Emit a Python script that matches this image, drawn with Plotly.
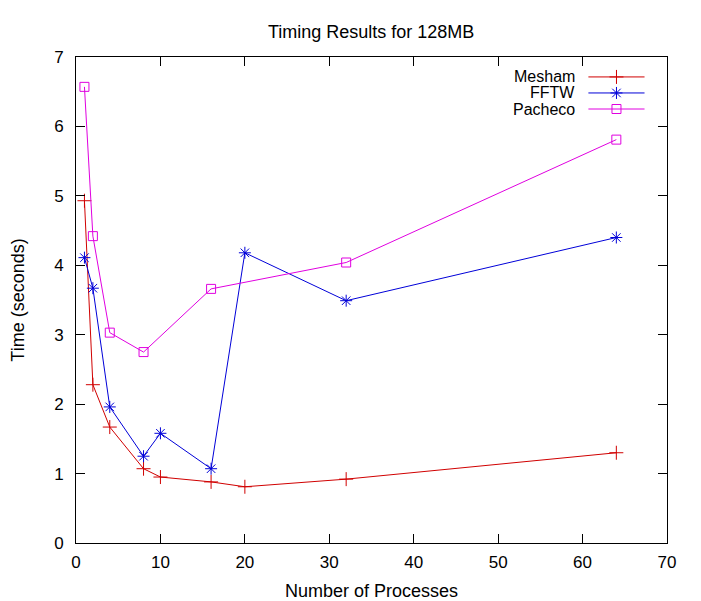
import plotly.graph_objects as go

# data
procs_mesham = [1, 2, 4, 8, 10, 16, 20, 32, 64]
time_mesham = [4.93, 2.28, 1.67, 1.07, 0.95, 0.88, 0.81, 0.92, 1.30]

procs_fftw = [1, 2, 4, 8, 10, 16, 20, 32, 64]
time_fftw = [4.11, 3.67, 1.96, 1.25, 1.58, 1.07, 4.18, 3.49, 4.40]

procs_pacheco = [1, 2, 4, 8, 16, 32, 64]
time_pacheco = [6.57, 4.42, 3.03, 2.75, 3.66, 4.04, 5.81]

series = [
    ("Mesham", procs_mesham, time_mesham, "#d00000", "cross-thin-open", 10),
    ("FFTW", procs_fftw, time_fftw, "#0000d8", "asterisk-open", 10),
    ("Pacheco", procs_pacheco, time_pacheco, "#e000e0", "square-open", 9),
]

font = "Liberation Sans, Arial, Helvetica, sans-serif"

fig = go.Figure()

for name, x, y, color, symbol, size in series:
    fig.add_trace(go.Scatter(
        x=x, y=y, mode="lines+markers", name=name,
        line=dict(color=color, width=1),
        marker=dict(symbol=symbol, size=size, color=color,
                    line=dict(color=color, width=1)),
        showlegend=False,
    ))

# gnuplot-style key: text on the left, sample on the right (overlay axes 0..1)
key_y = [0.959, 0.926, 0.893]
for (name, x, y, color, symbol, size), ky in zip(series, key_y):
    fig.add_trace(go.Scatter(
        x=[0.867, 0.962], y=[ky, ky], mode="lines",
        line=dict(color=color, width=1),
        xaxis="x2", yaxis="y2", showlegend=False, hoverinfo="skip",
    ))
    fig.add_trace(go.Scatter(
        x=[0.9145], y=[ky], mode="markers",
        marker=dict(symbol=symbol, size=size, color=color,
                    line=dict(color=color, width=1)),
        xaxis="x2", yaxis="y2", showlegend=False, hoverinfo="skip",
    ))
    fig.add_annotation(
        x=0.848, y=ky, xref="x2", yref="y2", text=name, showarrow=False,
        xanchor="right", yanchor="middle",
        font=dict(family=font, size=16, color="black"),
    )

axis_common = dict(
    showgrid=False, zeroline=False, showline=True, linecolor="black",
    linewidth=1, mirror="ticks", ticks="inside", ticklen=9,
    tickcolor="black", tickfont=dict(family=font, size=17, color="black"),
    automargin=False,
)

# the page adds an 8px body margin, so the figure is a bit smaller
fig.update_layout(
    width=693, height=593,
    margin=dict(l=68, r=34, t=49, b=58),
    paper_bgcolor="white", plot_bgcolor="white",
    title=dict(text="Timing Results for 128MB", x=0.524, xanchor="center",
               y=0.9595, yanchor="middle",
               font=dict(family=font, size=18, color="black")),
    xaxis=dict(range=[0, 70], dtick=10, tick0=0, ticklabelstandoff=4,
               title=dict(text="Number of Processes", standoff=18,
                          font=dict(family=font, size=18, color="black")),
               **axis_common),
    yaxis=dict(range=[0, 7], dtick=1, tick0=0, ticklabelstandoff=8,
               title=dict(text="Time (seconds)", standoff=24,
                          font=dict(family=font, size=18, color="black")),
               **axis_common),
    xaxis2=dict(overlaying="x", range=[0, 1], visible=False),
    yaxis2=dict(overlaying="y", range=[0, 1], visible=False),
)

fig.write_html("out.html")
